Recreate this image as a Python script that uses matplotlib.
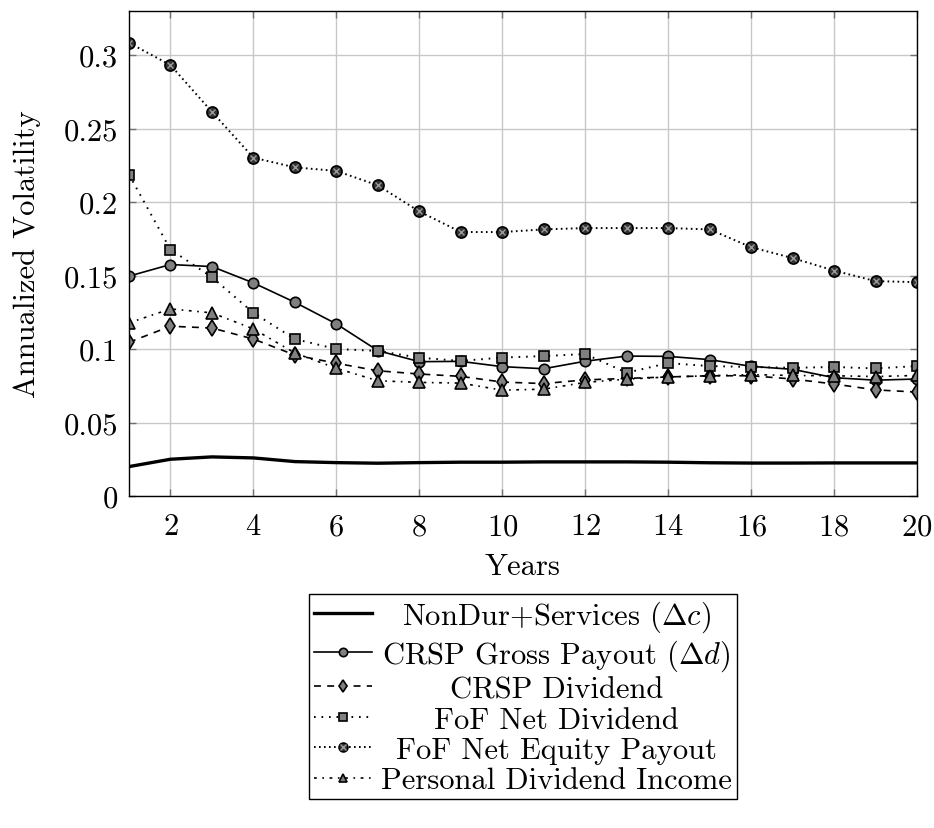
import numpy as np
import matplotlib
matplotlib.use('Agg')
import matplotlib.pyplot as plt
from matplotlib.ticker import FuncFormatter, MultipleLocator

plt.rcParams['font.family'] = 'serif'
plt.rcParams['font.serif'] = ['cmr10']
plt.rcParams['mathtext.fontset'] = 'cm'
plt.rcParams['axes.formatter.use_mathtext'] = True
plt.rcParams['lines.scale_dashes'] = False

# horizon in years
years = list(range(1, 21))

# annualized volatility
nondur = [0.0200, 0.0250, 0.0266, 0.0259, 0.0234, 0.0227, 0.0223, 0.0227, 0.0230, 0.0230,
          0.0232, 0.0232, 0.0232, 0.0230, 0.0226, 0.0224, 0.0224, 0.0225, 0.0225, 0.0225]
crsp_gross = [0.1496, 0.1575, 0.1561, 0.1450, 0.1318, 0.1171, 0.0989, 0.0914, 0.0916, 0.0880,
              0.0866, 0.0917, 0.0952, 0.0950, 0.0928, 0.0882, 0.0862, 0.0805, 0.0788, 0.0796]
crsp_div = [0.1046, 0.1155, 0.1143, 0.1068, 0.0959, 0.0903, 0.0852, 0.0830, 0.0814, 0.0775,
            0.0765, 0.0790, 0.0800, 0.0810, 0.0818, 0.0818, 0.0796, 0.0762, 0.0722, 0.0707]
fof_div = [0.2187, 0.1677, 0.1489, 0.1246, 0.1068, 0.1000, 0.0987, 0.0941, 0.0919, 0.0942,
           0.0952, 0.0966, 0.0839, 0.0904, 0.0884, 0.0878, 0.0872, 0.0878, 0.0868, 0.0884]
fof_equity = [0.3084, 0.2932, 0.2614, 0.2302, 0.2236, 0.2212, 0.2114, 0.1936, 0.1796, 0.1796,
              0.1814, 0.1823, 0.1823, 0.1823, 0.1814, 0.1693, 0.1619, 0.1534, 0.1462, 0.1455]
pers_div = [0.1178, 0.1273, 0.1246, 0.1137, 0.0973, 0.0869, 0.0784, 0.0773, 0.0768, 0.0720,
            0.0727, 0.0773, 0.0795, 0.0810, 0.0818, 0.0826, 0.0820, 0.0818, 0.0813, 0.0820]

labels = [r'NonDur+Services ($\Delta c$)',
          r'CRSP Gross Payout ($\Delta d$)',
          'CRSP Dividend',
          'FoF Net Dividend',
          'FoF Net Equity Payout',
          'Personal Dividend Income']

FS = 22
GRAY = '#808080'

fig = plt.figure(figsize=(9.34, 8.29), dpi=100)
ax = fig.add_axes([0.1381, 0.4005, 0.8437, 0.5850])

mk = dict(markerfacecolor=GRAY, markeredgecolor='black', markeredgewidth=1.2)

h1, = ax.plot(years, nondur, color='black', lw=2.4, ls='-')
h2, = ax.plot(years, crsp_gross, color='black', lw=1.2, ls='-', marker='o', markersize=7.5, **mk)
h3, = ax.plot(years, crsp_div, color='black', lw=1.2, ls=(0, (5, 4.5)), marker='d', markersize=8, **mk)
h4, = ax.plot(years, fof_div, color='black', lw=1.4, ls=(0, (1.2, 4.2)), marker='s', markersize=7.5, **mk)
h5, = ax.plot(years, fof_equity, color='black', lw=1.4, ls=(0, (1.2, 2.4)), marker='o', markersize=8,
              markerfacecolor='#333333', markeredgecolor='black', markeredgewidth=1.2)
h5x, = ax.plot(years, fof_equity, ls='none', marker='x', markersize=5, markeredgecolor='#9a9a9a',
               markeredgewidth=1.0)
h6, = ax.plot(years, pers_div, color='black', lw=1.2, ls=(0, (2, 4, 1.2, 4)), marker='^', markersize=8, **mk)

ax.set_xlim(1, 20)
ax.set_ylim(0, 0.33)
ax.xaxis.set_major_locator(MultipleLocator(2))
ax.yaxis.set_major_locator(MultipleLocator(0.05))
ax.yaxis.set_major_formatter(FuncFormatter(lambda v, p: '%g' % round(v, 2)))
ax.grid(True, color='#c8c8c8', lw=1.0)
ax.set_axisbelow(True)
ax.tick_params(direction='in', length=5, width=1, color='#707070', top=True, right=True,
               labelsize=FS, pad=8)
ax.tick_params(axis='x', pad=12)
for s in ax.spines.values():
    s.set_linewidth(1.0)
    s.set_color('black')

ax.set_xlabel('Years', fontsize=FS, labelpad=9)
ax.set_ylabel('Annualized Volatility', fontsize=FS, labelpad=16)

leg = ax.legend([h1, h2, h3, h4, (h5, h5x), h6], labels, loc='upper center',
                bbox_to_anchor=(0.5, -0.202), fontsize=FS, frameon=True, fancybox=False,
                edgecolor='black', framealpha=1, handlelength=1.9, handletextpad=0.3,
                labelspacing=0.1, borderpad=0.15, borderaxespad=0, markerscale=0.8)
leg.get_frame().set_linewidth(1.0)

# center the entry texts in their column, like the original
fig.canvas.draw()
texts = leg.get_texts()
widths = [t.get_window_extent().width for t in texts]
wmax = max(widths)
for t, w in zip(texts, widths):
    t.set_position(((wmax - w) / 2.0, 0))

fig.savefig('out.png', dpi=100)
